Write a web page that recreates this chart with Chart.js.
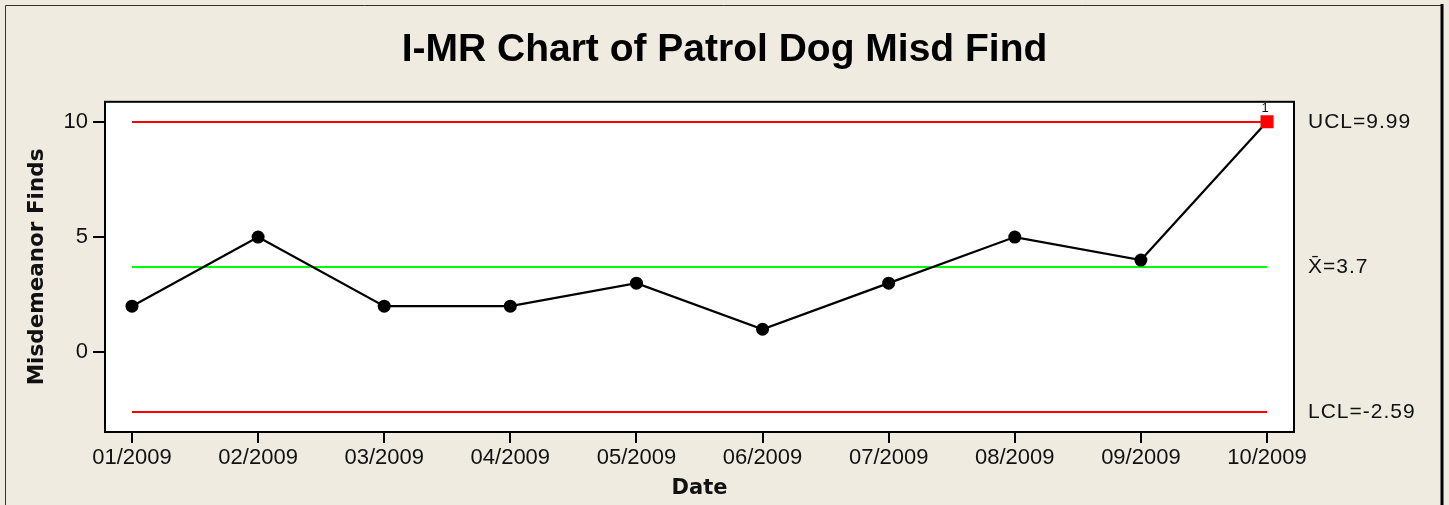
<!DOCTYPE html>
<html>
<head>
<meta charset="utf-8">
<script src="https://cdn.jsdelivr.net/npm/chart.js@4"></script>
<style>
	html, body { margin: 0; padding: 0; background: #efebe1; }
	#wrap { width: 1449px; height: 505px; }
</style>
</head>
<body>
<div id="wrap"><canvas id="imr"></canvas></div>
<script>
// data
const months = ["01/2009", "02/2009", "03/2009", "04/2009", "05/2009", "06/2009", "07/2009", "08/2009", "09/2009", "10/2009"];
const finds = [2, 5, 2, 2, 3, 1, 3, 5, 4, 10];
const yTicks = [0, 5, 10];
const ucl = 9.99;
const centre = 3.7;
const lcl = -2.59;

const lineFont = "'Liberation Sans', Arial, sans-serif";
const boldFont = "'DejaVu Sans', Verdana, sans-serif";

// points above the upper limit get a red square
const outOfControl = finds.map((v) => v > ucl);

const limitLine = (value, colour) => ({
	data: months.map((m, i) => ({ x: i, y: value })),
	borderColor: colour,
	borderWidth: 2,
	pointRadius: 0,
	order: 2,
});

// frame, white plot box and the control limit labels
const decor = {
	id: "decor",
	beforeDraw(chart) {
		const { ctx, chartArea: a } = chart;
		ctx.save();
		ctx.fillStyle = "#efebe1";
		ctx.fillRect(0, 0, chart.width, chart.height);
		ctx.strokeStyle = "#333333";
		ctx.lineWidth = 1;
		ctx.beginPath();
		ctx.moveTo(5.5, chart.height);
		ctx.lineTo(5.5, 5.5);
		ctx.lineTo(1441, 5.5);
		ctx.stroke();
		ctx.strokeStyle = "#000000";
		ctx.lineWidth = 3;
		ctx.beginPath();
		ctx.moveTo(1442, 4);
		ctx.lineTo(1442, chart.height);
		ctx.stroke();
		ctx.fillStyle = "#ffffff";
		ctx.fillRect(a.left, a.top, a.right - a.left, a.bottom - a.top);
		ctx.restore();
	},
	afterDraw(chart) {
		const { ctx, chartArea: a, scales } = chart;
		ctx.save();
		ctx.strokeStyle = "#000000";
		ctx.lineWidth = 2;
		ctx.strokeRect(a.left, a.top, a.right - a.left, a.bottom - a.top);
		ctx.fillStyle = "#111111";
		ctx.font = "21px " + lineFont;
		ctx.letterSpacing = "1px";
		ctx.textAlign = "left";
		ctx.textBaseline = "middle";
		const lx = a.right + 14;
		ctx.fillText("UCL=" + ucl, lx, scales.y.getPixelForValue(ucl));
		ctx.fillText("X\u0304=" + centre, lx, scales.y.getPixelForValue(centre));
		ctx.fillText("LCL=" + lcl, lx, scales.y.getPixelForValue(lcl));
		// test number above points that fail
		ctx.letterSpacing = "0px";
		ctx.font = "13px " + lineFont;
		ctx.textAlign = "center";
		ctx.textBaseline = "top";
		outOfControl.forEach((bad, i) => {
			if (bad) ctx.fillText("1", scales.x.getPixelForValue(i) - 2, a.top);
		});
		ctx.restore();
	},
};

const ctx = document.getElementById("imr");
new Chart(ctx, {
	type: "line",
	data: {
		datasets: [
			{
				data: finds.map((v, i) => ({ x: i, y: v })),
				borderColor: "#000000",
				borderWidth: 2.2,
				pointStyle: outOfControl.map((b) => (b ? "rect" : "circle")),
				pointRadius: outOfControl.map((b) => (b ? 9.2 : 6.5)),
				pointBackgroundColor: outOfControl.map((b) => (b ? "#ff0000" : "#000000")),
				pointBorderColor: outOfControl.map((b) => (b ? "#ff0000" : "#000000")),
				pointBorderWidth: 0,
				order: 1,
			},
			limitLine(ucl, "#ff0000"),
			limitLine(centre, "#00ff00"),
			limitLine(lcl, "#ff0000"),
		],
	},
	options: {
		responsive: true,
		maintainAspectRatio: false,
		animation: false,
		layout: {
			padding: 0,
		},
		plugins: {
			legend: { display: false },
			tooltip: { enabled: false },
			title: {
				display: true,
				text: "I-MR Chart of Patrol Dog Misd Find",
				color: "#000000",
				font: { family: lineFont, size: 39, weight: "bold" },
				padding: { top: 27, bottom: 28 },
			},
		},
		scales: {
			x: {
				type: "linear",
				min: -0.214,
				max: 9.214,
				afterBuildTicks: (scale) => {
					scale.ticks = months.map((m, i) => ({ value: i }));
				},
				afterFit: (scale) => {
					scale.height = 73;
				},
				ticks: {
					callback: (value) => months[value],
					color: "#111111",
					font: { family: lineFont, size: 22 },
					padding: 2,
					maxRotation: 0,
					autoSkip: false,
				},
				grid: {
					drawOnChartArea: false,
					drawTicks: true,
					tickLength: 11,
					color: "#000000",
					lineWidth: 2,
				},
				border: { display: true, color: "#000000", width: 2 },
				title: {
					display: true,
					text: "Date",
					color: "#111111",
					font: { family: boldFont, size: 21, weight: "bold" },
					padding: { top: 0, bottom: 4 },
				},
			},
			y: {
				min: -3.46,
				max: 10.87,
				afterBuildTicks: (scale) => {
					scale.ticks = yTicks.map((v) => ({ value: v }));
				},
				afterFit: (scale) => {
					scale.width = 105;
				},
				ticks: {
					color: "#111111",
					font: { family: lineFont, size: 22 },
					padding: 5,
				},
				grid: {
					drawOnChartArea: false,
					drawTicks: true,
					tickLength: 12,
					color: "#000000",
					lineWidth: 2,
				},
				border: { display: true, color: "#000000", width: 2 },
				title: {
					display: true,
					text: "Misdemeanor Finds",
					color: "#111111",
					font: { family: boldFont, size: 21.5, weight: "bold" },
					padding: { top: 25, bottom: 0 },
				},
			},
			// empty right-hand strip that holds the limit labels
			side: {
				type: "linear",
				position: "right",
				display: true,
				afterFit: (scale) => {
					scale.width = 155;
				},
				ticks: { display: false },
				grid: { display: false, drawTicks: false },
				border: { display: false },
			},
		},
	},
	plugins: [decor],
});
</script>
</body>
</html>
